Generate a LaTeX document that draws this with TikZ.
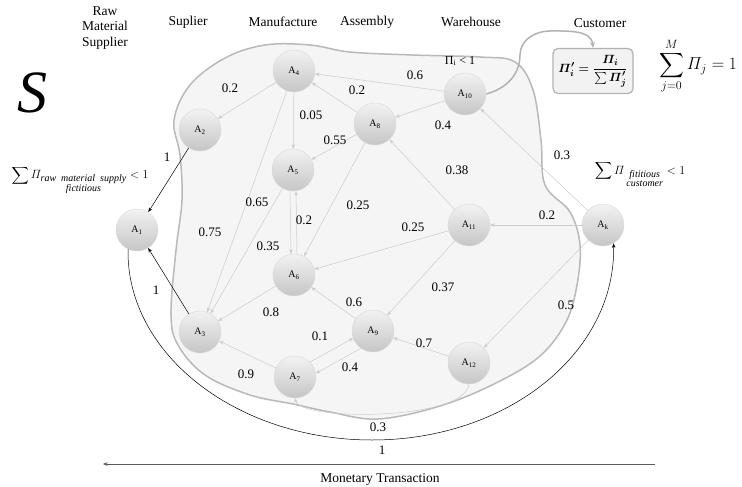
\documentclass[tikz,border=0pt]{standalone}
\usepackage{amsmath}
\usepackage{fontspec}
\setmainfont{Liberation Serif}
\usetikzlibrary{arrows.meta}

\tikzset{
  agent/.style={circle,minimum size=42pt,inner sep=0pt,draw=gray!30,top color=gray!10,bottom color=gray!45,font=\fontsize{10}{12}\selectfont},
  flow/.style={draw=gray!40,line width=0.5pt,-{Stealth[length=4.5pt,width=3.5pt]}},
  cash/.style={draw=black,line width=0.5pt,-{Stealth[length=4.5pt,width=3.5pt]}},
  wt/.style={font=\fontsize{13}{15}\selectfont,inner sep=0pt},
  stage/.style={font=\fontsize{13.5}{15.5}\selectfont,align=center,inner sep=0pt},
}
\newcommand{\subtxt}[1]{\text{\fontsize{10}{11}\selectfont\itshape #1}}

\begin{document}
\begin{tikzpicture}[x=1pt,y=-1pt]
\useasboundingbox (0,0) rectangle (742,487);

\draw[gray!55,line width=1.5pt,fill=gray!8] plot[smooth cycle,tension=0.6] coordinates {
 (171,314) (176,250) (182,200) (180,155) (174,120) (190,85) (225,58) (265,45) (310,45)
 (350,52) (413,55) (480,57) (515,62) (533,90) (541,140) (545,185) (570,212) (580,245)
 (577,285) (566,322) (540,356) (496,383) (440,406) (378,419) (330,412) (293,404)
 (250,395) (205,375) (178,345)};

\node(S)[font=\fontsize{60}{60}\selectfont\itshape,inner sep=0pt] at (32,93) {S};

\node(hRaw)[stage] at (105,28) {Raw\\Material\\Supplier};
\node(hSup)[stage] at (188,22) {Suplier};
\node(hMan)[stage] at (283,22) {Manufacture};
\node(hAss)[stage] at (367,22) {Assembly};
\node(hWar)[stage] at (471,22) {Warehouse};
\node(hCus)[stage] at (600,23) {Customer};

\node(A1)[agent] at (137,230) {A\textsubscript{1}};
\node(A2)[agent] at (200,130) {A\textsubscript{2}};
\node(A3)[agent] at (200,332) {A\textsubscript{3}};
\node(A4)[agent] at (294,71) {A\textsubscript{4}};
\node(A5)[agent] at (293,170) {A\textsubscript{5}};
\node(A6)[agent] at (294,275) {A\textsubscript{6}};
\node(A7)[agent] at (295,377) {A\textsubscript{7}};
\node(A8)[agent] at (375,124) {A\textsubscript{8}};
\node(A9)[agent] at (373,331) {A\textsubscript{9}};
\node(A10)[agent] at (465,94) {A\textsubscript{10}};
\node(A11)[agent] at (469,225) {A\textsubscript{11}};
\node(A12)[agent] at (469,363) {A\textsubscript{12}};
\node(Ak)[agent] at (603,225) {A\textsubscript{k}};

\node(share)[draw=gray!60,line width=1.2pt,rounded corners=5pt,fill=gray!10,minimum width=80pt,minimum height=45pt,inner sep=2pt,font=\fontsize{13}{15}\selectfont] at (593,71) {$\boldsymbol{\varPi'_i=\dfrac{\varPi_i}{\textstyle\sum\varPi'_j}}$};
\node(total)[font=\fontsize{18}{22}\selectfont,inner sep=0pt] at (698,66) {$\displaystyle\sum_{j=0}^{M}\varPi_j=1$};
\node(piw)[font=\fontsize{12}{14}\selectfont,inner sep=0pt] at (460,61) {Π\textsubscript{i} < 1};
\node(sumraw)[font=\fontsize{13}{15}\selectfont,inner sep=0pt] at (80,180) {$\displaystyle\sum\nolimits\varPi_{\substack{\subtxt{raw\ \ material\ \ supply}\\ \subtxt{fictitious}}}<1$};
\node(sumcus)[font=\fontsize{13}{15}\selectfont,inner sep=0pt] at (640,174) {$\displaystyle\sum\nolimits\varPi_{\;\substack{\subtxt{fititious}\\ \subtxt{customer}}}<1$};

\draw[flow] (A4) -- (A2);
\draw[flow] (A4) -- (A5);
\draw[flow] (A4) -- (A3);
\draw[flow] (A5) -- (A3);
\draw[flow] (A8) -- (A4);
\draw[flow] (A10) -- (A4);
\draw[flow] (A10) -- (A8);
\draw[flow] (A8) -- (A5);
\draw[flow] (A8) -- (A6);
\draw[flow] ([xshift=-3pt]A5.south) -- ([xshift=-3pt]A6.north);
\draw[flow] ([xshift=3pt]A6.north) -- ([xshift=3pt]A5.south);
\draw[flow] (A11) -- (A8);
\draw[flow] (A11) -- (A6);
\draw[flow] (A11) -- (A9);
\draw[flow] (Ak) -- (A11);
\draw[flow] (Ak) -- (A10);
\draw[flow] (Ak) -- (A12);
\draw[flow] (A6) -- (A3);
\draw[flow] (A9) -- (A6);
\draw[flow] (A7.45) -- (A9.200);
\draw[flow] (A9.235) -- (A7.10);
\draw[flow] (A12) -- (A9);
\draw[flow] (A7) -- (A3);
\draw[flow] (A12.south) .. controls (465,421) and (300,421) .. (A7.south);

\draw[gray!60,line width=1.5pt,-{Stealth[length=6pt,width=5pt]}] (A10.east) to[out=15,in=-90] (520,55) to[out=90,in=180] (550,31) to[out=0,in=95] (share.north);

\draw[cash] (A2) -- (A1);
\draw[cash] (A3) -- (A1);
\coordinate(arcLow) at (372,440);
\draw[cash] (A1.-115) .. controls +(-2,105) and +(-135,0) .. (arcLow) .. controls +(135,0) and +(2,110) .. (Ak.-60);

\node(w42)[wt] at (230,88) {0.2};
\node(w45)[wt] at (311,115) {0.05};
\node(w43)[wt] at (210,232) {0.75};
\node(w53)[wt] at (257,202) {0.65};
\node(w84)[wt] at (357,90) {0.2};
\node(w104)[wt] at (415,75) {0.6};
\node(w108)[wt] at (443,125) {0.4};
\node(w85)[wt] at (335,140) {0.55};
\node(w86)[wt] at (358,205) {0.25};
\node(w65)[wt] at (304,220) {0.2};
\node(w56)[wt] at (268,246) {0.35};
\node(w118)[wt] at (457,170) {0.38};
\node(w116)[wt] at (413,227) {0.25};
\node(w119)[wt] at (443,287) {0.37};
\node(wk11)[wt] at (547,215) {0.2};
\node(wk10)[wt] at (562,155) {0.3};
\node(wk12)[wt] at (566,305) {0.5};
\node(w63)[wt] at (271,312) {0.8};
\node(w96)[wt] at (354,302) {0.6};
\node(w79)[wt] at (320,336) {0.1};
\node(w97)[wt] at (350,367) {0.4};
\node(w129)[wt] at (424,343) {0.7};
\node(w73)[wt] at (246,374) {0.9};
\node(w127)[wt] at (378,427) {0.3};
\node(w21)[wt] at (167,157) {1};
\node(w31)[wt] at (156,290) {1};
\node(w1k)[wt] at (382,450) {1};

\coordinate(mR) at (655,464);
\coordinate(mL) at (103,464);
\draw[cash,draw=gray!70!black] (mR) -- (mL);
\node(money)[stage] at (380,479) {Monetary Transaction};

\end{tikzpicture}
\end{document}
